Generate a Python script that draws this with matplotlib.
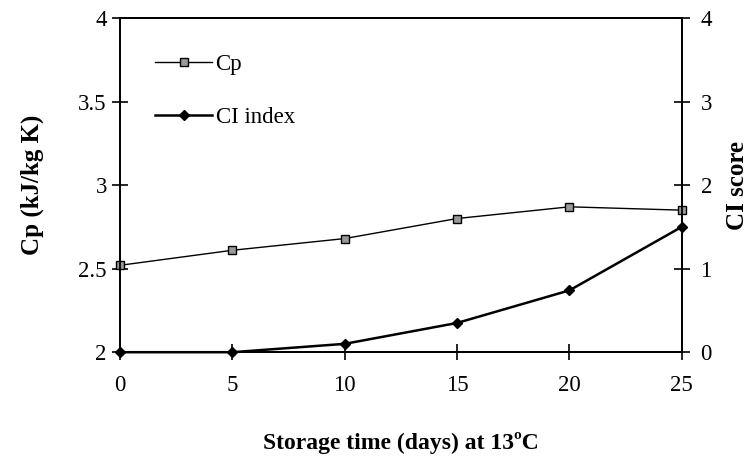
import numpy as np
import matplotlib.pyplot as plt

plt.rcParams['font.family'] = ['Liberation Serif', 'DejaVu Serif']

# storage days and measured values
dias = [0, 5, 10, 15, 20, 25]
cp = [2.52, 2.61, 2.68, 2.80, 2.87, 2.85]
ci_index = [0.0, 0.0, 0.10, 0.35, 0.74, 1.50]

fig = plt.figure(figsize=(7.55, 4.61), dpi=100)
ax = fig.add_axes([0.159, 0.236, 0.744, 0.725])
ax2 = ax.twinx()

# Cp on the left axis
l1, = ax.plot(dias, cp, color='black', lw=1.0, marker='s', markersize=5.5,
              markerfacecolor='#999999', markeredgecolor='black', markeredgewidth=1,
              clip_on=False, zorder=3, label='Cp')
# CI score on the right axis
l2, = ax2.plot(dias, ci_index, color='black', lw=1.8, marker='D', markersize=5,
               clip_on=False, zorder=3, label='CI index')

ax.set_xlim(0, 25)
ax.set_ylim(2, 4)
ax2.set_ylim(0, 4)
ax.set_xticks(np.arange(0, 26, 5))
ax.set_yticks([2, 2.5, 3, 3.5, 4])
ax.set_yticklabels(['2', '2.5', '3', '3.5', '4'])
ax2.set_yticks([0, 1, 2, 3, 4])

for a in (ax, ax2):
    for s in a.spines.values():
        s.set_linewidth(1.3)
    a.tick_params(direction='inout', length=11, width=1.2, labelsize=16.5)
ax.tick_params(axis='x', pad=11)
ax.tick_params(axis='y', pad=4)
ax2.tick_params(axis='y', pad=8)

ax.set_xlabel('Storage time (days) at 13ºC', fontsize=17, fontweight='bold', labelpad=26)
ax.set_ylabel('Cp (kJ/kg K)', fontsize=18, fontweight='bold', labelpad=25)
ax2.set_ylabel('CI score', fontsize=18, fontweight='bold', labelpad=10)

ax.legend(handles=[l1, l2], loc='upper left', bbox_to_anchor=(0.062, 0.893),
          frameon=False, fontsize=16.5, handlelength=2.5, handletextpad=0.15,
          labelspacing=1.4, borderaxespad=0, borderpad=0)

fig.savefig('out.png', dpi=100)
